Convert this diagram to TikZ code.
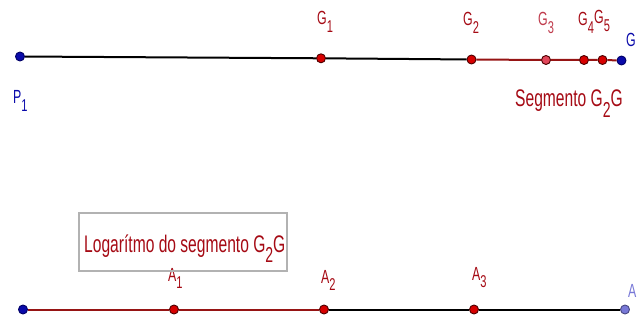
\documentclass[tikz,border=0pt]{standalone}
\usepackage{fontspec}
\usepackage{graphicx}
\setmainfont{Liberation Sans}
\newfontfamily\cf[FakeStretch=0.65]{Liberation Sans}
\newcommand\sbs[1]{\raisebox{-0.42em}{\scalebox{0.9}{#1}}}
\definecolor{dred}{RGB}{150,20,20}
\definecolor{pred}{RGB}{215,0,0}
\definecolor{ppink}{RGB}{225,70,90}
\definecolor{pblue}{RGB}{10,10,170}
\definecolor{lblue}{RGB}{120,120,215}
\definecolor{txtred}{RGB}{165,10,20}
\begin{document}
\begin{tikzpicture}[x=1pt,y=-1pt,
  pt/.style={circle,draw=black!70!red,fill=pred,line width=0.9pt,inner sep=0pt,minimum size=9pt},
  lbl/.style={text=txtred,font=\cf\fontsize{19}{19}\selectfont,inner sep=0pt,anchor=base west},
  big/.style={text=txtred,font=\cf\fontsize{24}{24}\selectfont,inner sep=0pt,anchor=base west},
  seg/.style={line width=2pt}]
\useasboundingbox (0,0) rectangle (637,326);
% top line
\node[pt,fill=pblue,draw=black!60!blue] (P1) at (20,56.5) {};
\node[pt] (G1) at (321,58.3) {};
\node[pt] (G2) at (471.5,59.5) {};
\node[pt,fill=ppink] (G3) at (546,60) {};
\node[pt] (G4) at (584,60) {};
\node[pt] (G5) at (602.5,60) {};
\node[pt,fill=pblue,draw=black!60!blue] (G) at (621.5,60.5) {};
\draw[seg,black] (P1) -- (G1) -- (G2);
\draw[seg,dred] (G2) -- (G3) -- (G4) -- (G5) -- (G);
\node[lbl,text=pblue] (lP1) at (13,104) {P\sbs{1}};
\node[lbl] (lG1) at (317,25) {G\sbs{1}};
\node[lbl] (lG2) at (463,26) {G\sbs{2}};
\node[lbl,text=ppink!85!black] (lG3) at (538,26) {G\sbs{3}};
\node[lbl] (lG4) at (578,26) {G\sbs{4}};
\node[lbl] (lG5) at (594,24) {G\sbs{5}};
\node[lbl,text=pblue] (lG) at (626,47) {G};
\node[big] (seglbl) at (515,107) {Segmento G\sbs{2}G};
% bottom line
\node[pt,fill=pblue,draw=black!60!blue] (S) at (23,309.5) {};
\node[pt] (A1) at (174,309.5) {};
\node[pt] (A2) at (324,309.5) {};
\node[pt] (A3) at (474,309.5) {};
\node[pt,fill=lblue,draw=black!40!lblue] (A) at (625,309.5) {};
\draw[seg,dred] (S) -- (A1) -- (A2);
\draw[seg,black] (A2) -- (A3) -- (A);
\node[lbl] (lA1) at (168,281) {A\sbs{1}};
\node[lbl] (lA2) at (321,283) {A\sbs{2}};
\node[lbl] (lA3) at (472,280) {A\sbs{3}};
\node[lbl,text=lblue] (lA) at (628,297) {A};
\draw[black!30,line width=1.2pt] (79,213) rectangle (287,271);
\node[big] (boxtxt) at (84,252) {Logarítmo do segmento G\sbs{2}G};
\end{tikzpicture}
\end{document}
